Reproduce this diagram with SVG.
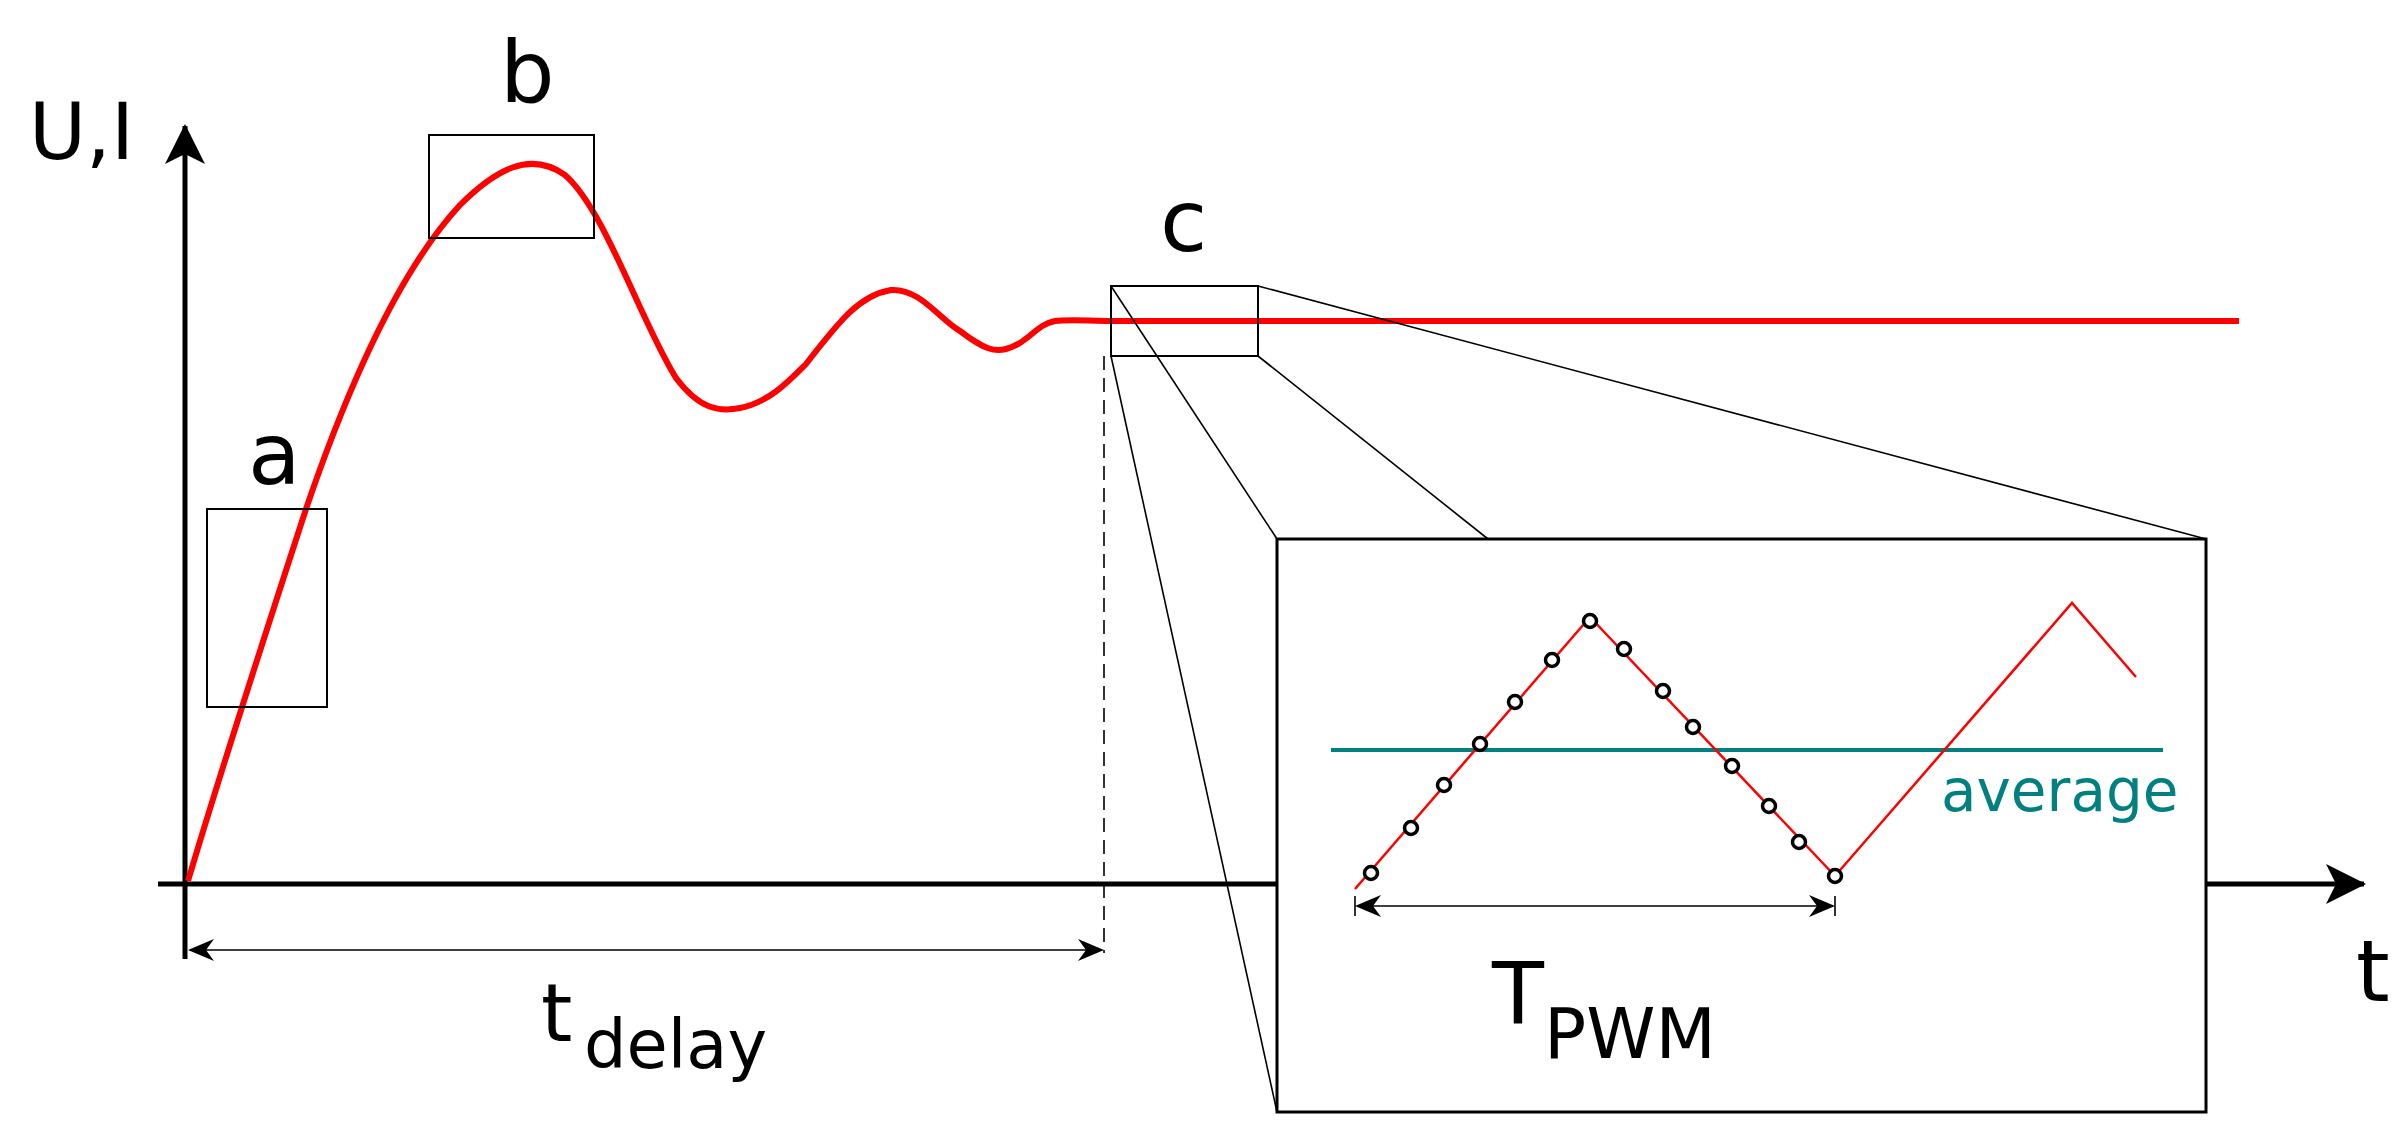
<svg xmlns="http://www.w3.org/2000/svg" width="2408" height="1135" viewBox="0 0 2408 1135">
<style>
text{font-family:"DejaVu Sans","Liberation Sans",sans-serif;fill:#000}
.box{fill:none;stroke:#000;stroke-width:2}
.thin{fill:none;stroke:#000;stroke-width:1.6}
.axis{fill:none;stroke:#000;stroke-width:5}
.red{fill:none;stroke:#f00;stroke-width:6}
.dot{fill:#fff;stroke:#000;stroke-width:3.5}
</style>
<defs>
<marker id="ah" viewBox="0 0 26 22" refX="24" refY="11" markerWidth="26" markerHeight="22" markerUnits="userSpaceOnUse" orient="auto-start-reverse"><path d="M0,0 L26,11 L0,22 L8,11 Z" fill="#000"/></marker>
<marker id="big" viewBox="0 0 40 40" refX="38" refY="20" markerWidth="40" markerHeight="40" markerUnits="userSpaceOnUse" orient="auto"><path d="M0,0 L40,20 L0,40 L10,20 Z" fill="#000"/></marker>
</defs>
<g id="axes">
<line class="axis" x1="185" y1="959" x2="185" y2="126" marker-end="url(#big)"/>
<line class="axis" x1="158" y1="884" x2="2364" y2="884" marker-end="url(#big)"/>
<text x="29" y="159" font-size="78">U,I</text>
<text x="2356" y="1001" font-size="86">t</text>
</g>
<g id="curve">
<path class="red" d="M188,881 C215,790 260,650 306,509 C350,380 400,270 460,205 C495,170 530,150 565,175 C605,210 640,320 676,378 C700,410 720,412 740,408 C770,402 790,380 806,364 C840,320 860,295 891,290 C920,288 940,320 960,331 C985,350 995,352 1006,349 C1030,342 1035,325 1055,321 C1070,319 1090,321 1111,321 L2239,321"/>
</g>
<g id="box-a"><rect class="box" x="207" y="509" width="120" height="198"/><text x="248" y="484" font-size="86">a</text></g>
<g id="box-b"><rect class="box" x="429" y="135" width="165" height="103"/><text x="500" y="102" font-size="86">b</text></g>
<g id="box-c"><rect class="box" x="1111" y="286" width="147" height="70"/><text x="1160" y="251" font-size="86">c</text></g>
<g id="connectors">
<line class="thin" x1="1258" y1="286" x2="2206" y2="539"/>
<line class="thin" x1="1258" y1="356" x2="1488" y2="539"/>
<line class="thin" x1="1111" y1="286" x2="1277" y2="539"/>
<line class="thin" x1="1111" y1="356" x2="1277" y2="1112"/>
<line class="thin" x1="1104" y1="356" x2="1104" y2="953" stroke-dasharray="14,8"/>
<line class="thin" x1="190" y1="950" x2="1102" y2="950" marker-start="url(#ah)" marker-end="url(#ah)"/>
</g>
<g id="tdelay"><text x="541" y="1041" font-size="80">t</text><text x="584" y="1068" font-size="67">delay</text></g>
<g id="inset">
<rect x="1277" y="539" width="929" height="573" fill="#fff" stroke="#000" stroke-width="3"/>
<line x1="1331" y1="750" x2="2163" y2="750" stroke="#008080" stroke-width="4"/>
<polyline fill="none" stroke="#f00" stroke-width="2.5" points="1355,889 1590,617 1835,876 2072,603 2136,677"/>
<g class="dots">
<circle class="dot" cx="1371" cy="873" r="6.5"/><circle class="dot" cx="1411" cy="828" r="6.5"/><circle class="dot" cx="1444" cy="785" r="6.5"/><circle class="dot" cx="1480" cy="744" r="6.5"/><circle class="dot" cx="1515" cy="702" r="6.5"/><circle class="dot" cx="1552" cy="660" r="6.5"/><circle class="dot" cx="1590" cy="621" r="6.5"/><circle class="dot" cx="1624" cy="649" r="6.5"/><circle class="dot" cx="1663" cy="691" r="6.5"/><circle class="dot" cx="1693" cy="727" r="6.5"/><circle class="dot" cx="1732" cy="766" r="6.5"/><circle class="dot" cx="1769" cy="806" r="6.5"/><circle class="dot" cx="1799" cy="842" r="6.5"/><circle class="dot" cx="1835" cy="876" r="6.5"/>
</g>
<text x="1941" y="811" font-size="58" style="fill:#008080">average</text>
<line class="thin" x1="1357" y1="906" x2="1833" y2="906" marker-start="url(#ah)" marker-end="url(#ah)"/>
<line class="thin" x1="1355" y1="896" x2="1355" y2="916"/>
<line class="thin" x1="1835" y1="896" x2="1835" y2="916"/>
<text x="1492" y="1023" font-size="85">T</text><text x="1544" y="1058" font-size="70">PWM</text>
</g>
</svg>
